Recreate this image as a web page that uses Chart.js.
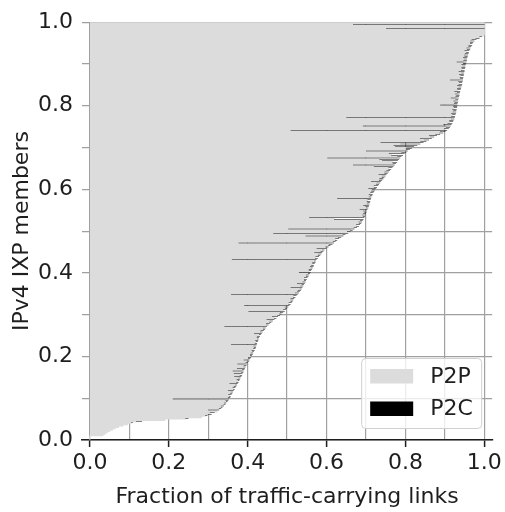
<!DOCTYPE html>
<html><head><meta charset="utf-8">
<script src="https://cdn.jsdelivr.net/npm/chart.js@4/dist/chart.umd.min.js"></script>
<style>html,body{margin:0;padding:0;background:#fff}#wrap{width:505px;height:512px;position:relative}</style>
</head><body><div id="wrap"><canvas id="c" width="505" height="512"></canvas></div>
<script>
// One row per IXP member, sorted; total = fraction of traffic-carrying links covered (P2P + P2C)
const total = [
0,0,0,.033,.038,.044,.050,.057,.064,.073,
.084,.095,.109,.132,.190,.250,.283,.298,.309,.316,
.322,.328,.333,.336,.340,.344,.346,.349,.351,.353,
.356,.357,.359,.361,.363,.365,.367,.369,.371,.373,
.375,.377,.379,.380,.382,.384,.386,.387,.389,.390,
.392,.393,.395,.397,.399,.401,.403,.405,.407,.409,
.411,.413,.414,.416,.418,.420,.421,.422,.423,.424,
.426,.427,.428,.429,.431,.434,.436,.438,.441,.444,
.446,.449,.453,.456,.460,.464,.468,.473,.477,.482,
.486,.490,.494,.497,.500,.503,.506,.509,.512,.514,
.516,.518,.521,.524,.527,.530,.532,.535,.537,.539,
.541,.543,.545,.547,.548,.550,.552,.554,.556,.558,
.560,.561,.563,.565,.567,.568,.570,.572,.573,.575,
.578,.581,.584,.587,.589,.592,.595,.600,.605,.610,
.615,.619,.623,.627,.632,.637,.643,.648,.655,.661,
.666,.671,.677,.682,.685,.688,.690,.692,.694,.696,
.698,.699,.700,.701,.702,.704,.706,.707,.708,.709,
.710,.711,.712,.713,.714,.716,.717,.719,.721,.723,
.726,.728,.731,.733,.736,.738,.741,.744,.747,.750,
.752,.755,.758,.761,.764,.767,.770,.773,.776,.779,
.781,.784,.787,.790,.794,.798,.802,.806,.811,.816,
.822,.830,.838,.846,.853,.860,.867,.873,.880,.888,
.896,.902,.906,.910,.913,.915,.917,.919,.921,.922,
.924,.925,.926,.927,.928,.929,.929,.930,.931,.931,
.932,.932,.933,.934,.934,.935,.936,.937,.937,.938,
.939,.940,.941,.942,.943,.944,.944,.945,.946,.946,
.947,.948,.948,.949,.950,.950,.951,.952,.952,.953,
.954,.955,.956,.956,.957,.958,.959,.960,.961,.962,
.964,.965,.967,.969,.970,.972,.975,.980,.988,.994,
.998,1,1,1,1,1,1,1,1,1
];
// P2C share of each member (drawn after its P2P share)
const p2c = [
0,0,0,0,0,0,0,0,0,0,
0,0,.004,.015,0,.008,0,.006,.01,.012,
0,.028,.006,.004,.008,.005,.006,.004,.007,.143,
.006,.004,.008,.005,.006,.015,.004,.007,.006,.005,
.021,.006,.004,.008,.005,.018,.006,.022,.005,.028,
.006,.02,.005,.007,.025,.006,.004,.015,.006,.008,
.005,.007,.006,.004,.008,.006,.005,.007,.065,.006,
.005,.008,.004,.006,.007,.005,.02,.006,.008,.005,
.007,.108,.006,.009,.005,.008,.02,.006,.015,.007,
.006,.008,.092,.007,.005,.009,.115,.006,.008,.005,
.007,.009,.006,.008,.169,.01,.006,.008,.005,.03,
.007,.006,.02,.008,.005,.007,.009,.006,.008,.005,
.03,.006,.008,.005,.009,.007,.006,.008,.005,.215,
.007,.009,.006,.008,.02,.007,.006,.025,.008,.006,
.009,.242,.007,.006,.01,.008,.096,.007,.19,.009,
.006,.168,.008,.007,.01,.006,.009,.007,.075,.14,
.006,.008,.007,.005,.009,.02,.006,.008,.015,.007,
.006,.009,.008,.086,.007,.006,.01,.008,.007,.009,
.02,.008,.011,.007,.009,.025,.008,.01,.007,.009,
.02,.008,.011,.009,.007,.01,.05,.106,.008,.012,
.04,.05,.185,.01,.03,.04,.012,.106,.01,.015,
.048,.06,.05,.109,.015,.012,.03,.01,.02,.012,
.01,.014,.397,.012,.01,.223,.021,.012,.009,.011,
.008,.275,.01,.008,.012,.009,.007,.011,.008,.01,
.044,.009,.008,.012,.007,.02,.009,.008,.011,.007,
.015,.008,.01,.007,.012,.009,.008,.011,.033,.007,
.009,.008,.012,.007,.015,.009,.008,.01,.007,.011,
.008,.025,.009,.007,.011,.008,.01,.009,.007,.012,
.008,.01,.007,.009,.006,.008,.01,.012,.01,.006,
0,0,0,0,0,.249,0,0,.333,0
];
const seriesNames = ['P2P', 'P2C'];
const gridValues = [0,0.1,0.2,0.3,0.4,0.5,0.6,0.7,0.8,0.9,1.0];
const tickLabels = ['0.0','0.2','0.4','0.6','0.8','1.0'];

const members = total.map((_, i) => i);
const p2p = total.map((t, i) => +(t - p2c[i]).toFixed(3));
const p2cRange = total.map((t, i) => [p2p[i], t]);

const FONT = 'DejaVu Sans';
const TXT = '#1e1e1e';
const GRID = '#a0a0a0';

const lbl = v => { const s = Number(v).toFixed(1); return tickLabels.includes(s) ? s : ''; };

const legendPlugin = {
  id: 'innerLegend',
  afterDraw(chart) {
    const ctx = chart.ctx, a = chart.chartArea;
    const w = 120, h = 70;
    const x = a.right - 11 - w, y = a.bottom - 12 - h;
    ctx.save();
    ctx.beginPath();
    ctx.roundRect(x + 0.5, y + 0.5, w, h, 4);
    ctx.fillStyle = 'rgba(255,255,255,0.8)';
    ctx.fill();
    ctx.strokeStyle = '#d0d0d0';
    ctx.lineWidth = 1;
    ctx.stroke();
    const ds = chart.data.datasets;
    const rows = [y + 18, y + 50.5];
    ctx.font = '22px "' + FONT + '"';
    ctx.textBaseline = 'middle';
    ctx.textAlign = 'left';
    ds.forEach((d, i) => {
      ctx.fillStyle = d.legendColor;
      ctx.fillRect(x + 9, rows[i] - 7, 43, 14.5);
      ctx.fillStyle = TXT;
      ctx.fillText(d.label, x + 69, rows[i] + 1);
    });
    ctx.restore();
  }
};

new Chart(document.getElementById('c'), {
  type: 'bar',
  data: {
    labels: members,
    datasets: [
      { label: seriesNames[0], data: p2p, backgroundColor: '#dcdcdc', legendColor: '#dcdcdc',
        borderWidth: 0, barPercentage: 1, categoryPercentage: 1, grouped: false,
        inflateAmount: 0.45, order: 2 },
      { label: seriesNames[1], data: p2cRange, backgroundColor: '#000000', legendColor: '#000000',
        borderWidth: 0, barPercentage: 0.36, categoryPercentage: 1, grouped: false,
        inflateAmount: 0, order: 1 }
    ]
  },
  options: {
    indexAxis: 'y',
    responsive: false,
    animation: false,
    devicePixelRatio: 1,
    layout: { padding: { top: 17, right: 11, left: 0, bottom: 0 } },
    plugins: { legend: { display: false }, tooltip: { enabled: false } },
    scales: {
      y: { type: 'category', display: false, reverse: true, offset: true },
      yv: {
        type: 'linear', position: 'left', min: 0, max: 1, offset: false,
        afterBuildTicks: s => { s.ticks = gridValues.map(v => ({ value: v })); },
        afterFit: s => { s.width = 82; },
        grid: { color: GRID, lineWidth: 1.2, drawTicks: false, offset: false },
        border: { display: false },
        ticks: { callback: lbl, padding: 9, color: TXT, font: { family: FONT, size: 22 }, autoSkip: false },
        title: { display: true, text: 'IPv4 IXP members', color: TXT, font: { family: FONT, size: 22 }, padding: { top: 9, bottom: 0 } }
      },
      x: {
        type: 'linear', min: -0.02, max: 1.02, offset: false,
        afterBuildTicks: s => { s.ticks = gridValues.map(v => ({ value: v })); },
        afterFit: s => { s.height = 72; },
        grid: {
          color: GRID, lineWidth: 1.2, drawTicks: true, tickLength: 7, tickWidth: 1.5, offset: false,
          tickColor: c => (c.tick && lbl(c.tick.value) !== '') ? '#1e1e1e' : 'rgba(0,0,0,0)'
        },
        border: { display: true, color: '#1e1e1e', width: 1.5 },
        ticks: { callback: lbl, padding: 3, color: TXT, font: { family: FONT, size: 22 }, autoSkip: false, maxRotation: 0 },
        title: { display: true, text: 'Fraction of traffic-carrying links', color: TXT, font: { family: FONT, size: 22 }, padding: { top: 0, bottom: 2 } }
      }
    }
  },
  plugins: [legendPlugin]
});
</script>
</body></html>
